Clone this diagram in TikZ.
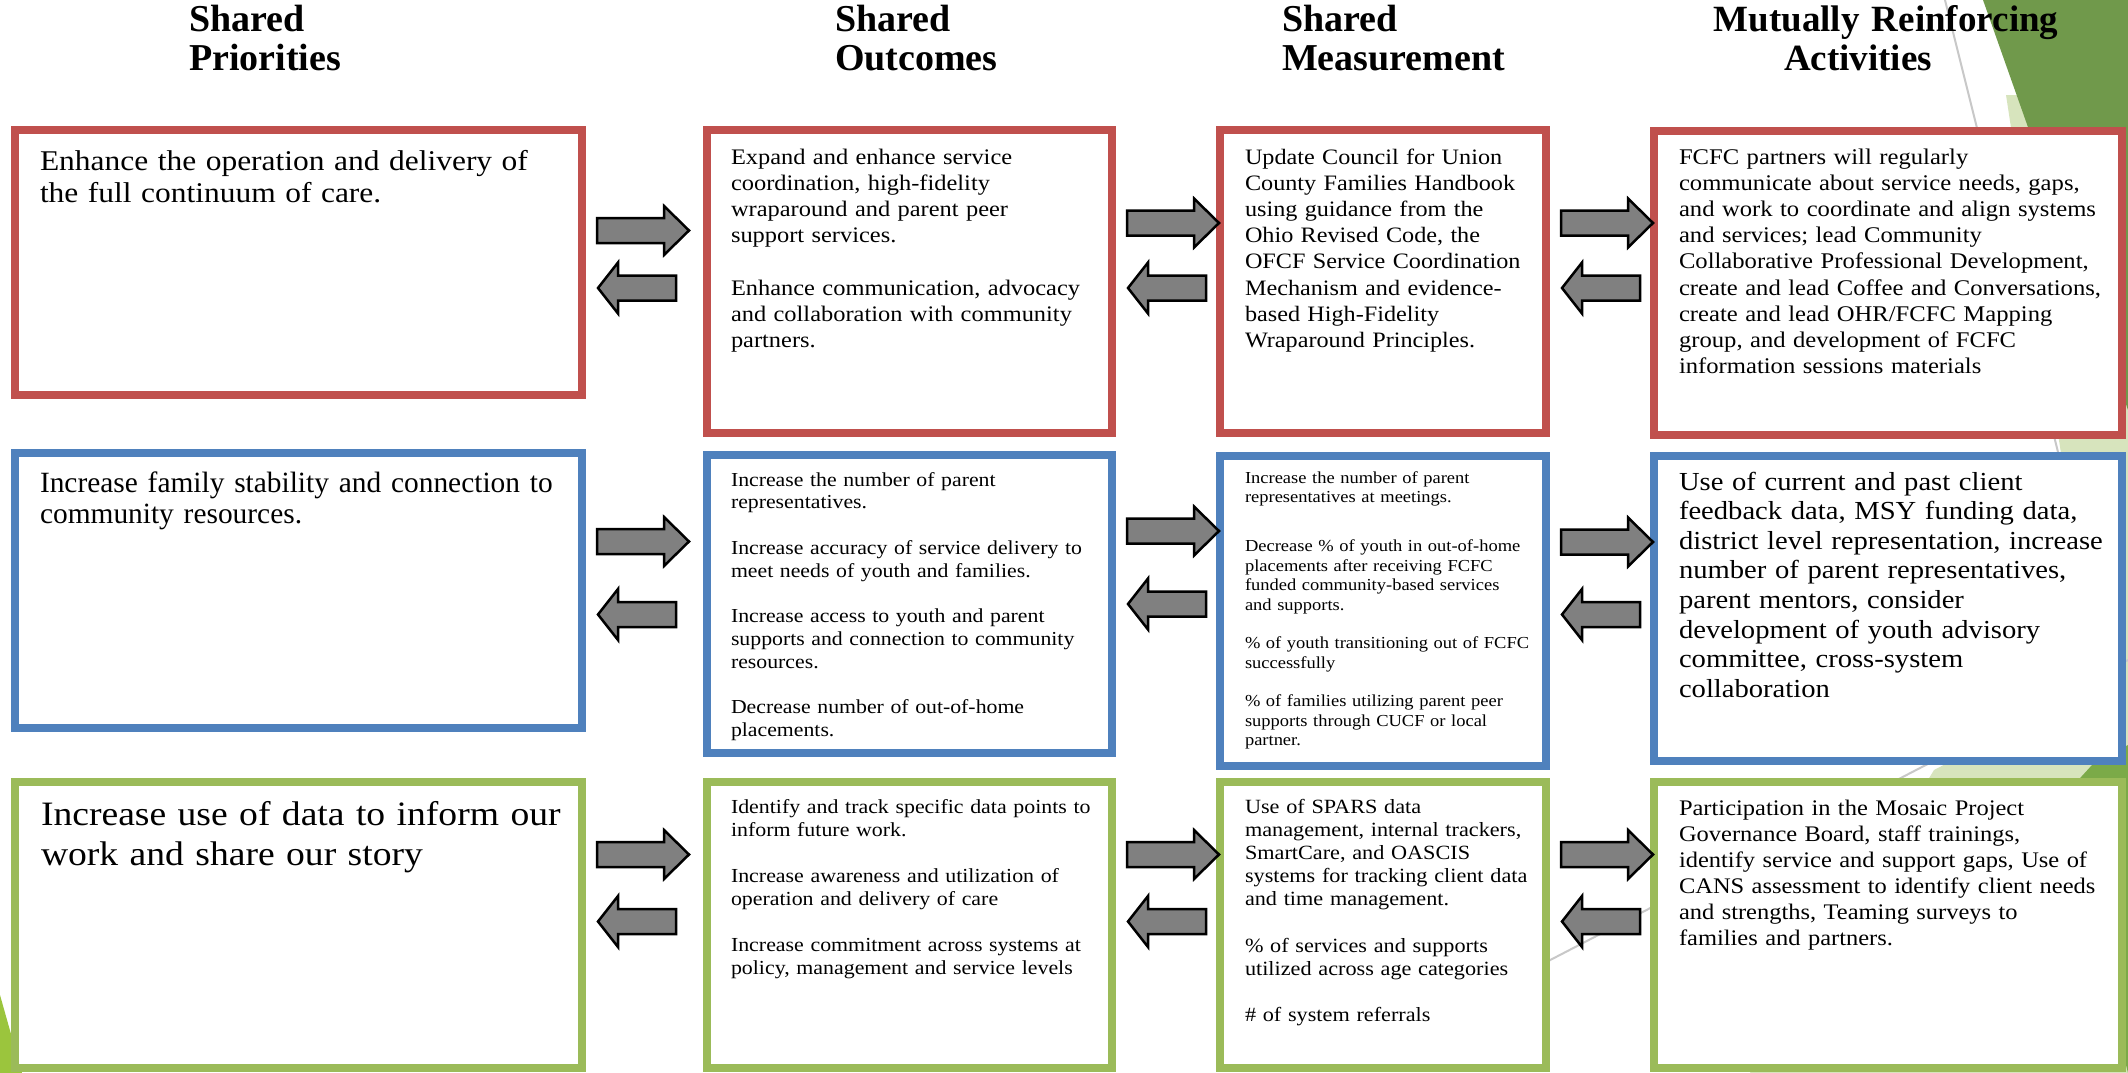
\documentclass[tikz,border=0pt]{standalone}
\usepackage{fontspec}
\setmainfont{Liberation Serif}
\newfontfamily\cam[FakeStretch=1.1]{Liberation Serif}
\newfontfamily\tnr{Liberation Serif}
\usetikzlibrary{calc}
\definecolor{bred}{HTML}{C0504D}
\definecolor{bblue}{HTML}{4F81BD}
\definecolor{bgreen}{HTML}{9BBB59}
\definecolor{arrowgrey}{HTML}{808080}
\definecolor{darkleaf}{HTML}{70994B}
\definecolor{lightleaf}{HTML}{D7E4BD}
\definecolor{midleaf}{HTML}{7BAA48}
\definecolor{limeleaf}{HTML}{9BC53D}
\definecolor{decoline}{HTML}{C8C8C8}
\tikzset{
  box/.style={rectangle, draw, line width=8pt, fill=white, inner sep=0pt, outer sep=0pt, anchor=north west},
  redbox/.style={box, draw=bred},
  bluebox/.style={box, draw=bblue},
  greenbox/.style={box, draw=bgreen},
  txt/.style={anchor=base west, inner sep=0pt, outer sep=0pt, text width=600pt, align=left},
  ttl/.style={anchor=base west, inner sep=0pt, outer sep=0pt, text width=420pt, align=left,
              font=\tnr\bfseries\fontsize{38}{39}\selectfont},
  blockarrow/.style={draw=black, line width=2.5pt, fill=arrowgrey, line join=miter},
  decol/.style={draw=decoline, line width=2pt}
}
% right-pointing block arrow starting just right of box #1, centred at image row #2
\newcommand\blockR[2]{%
  \path (0,#2) coordinate (yy);
  \coordinate (ra) at ($(#1.east |- yy)+(15,0)$);
  \draw[blockarrow] ($(ra)+(0,-12.5)$) -- ++(67,0) -- ++(0,-12) -- ++(25,24.5)
     -- ++(-25,24.5) -- ++(0,-12) -- ++(-67,0) -- cycle;}
% left-pointing block arrow whose tip is just right of box #1
\newcommand\blockL[2]{%
  \path (0,#2) coordinate (yy);
  \coordinate (la) at ($(#1.east |- yy)+(16,0)$);
  \draw[blockarrow] (la) -- ++(20,-25.5) -- ++(0,13) -- ++(58,0) -- ++(0,25)
     -- ++(-58,0) -- ++(0,13) -- cycle;}
\begin{document}
\begin{tikzpicture}[x=1pt,y=-1pt]
\useasboundingbox (0,0) rectangle (2128,1073);
\fill[white] (0,0) rectangle (2128,1073);

% background decoration
\fill[lightleaf] (2006,95) -- (2128,95) -- (2128,740) -- (2105,740) -- cycle;
\fill[darkleaf] (1983,0) -- (2128,0) -- (2128,410) -- cycle;
\draw[decol] (1945,0) -- (2128,732);
\fill[lightleaf] (1934,770) -- (2128,669) -- (2128,1073) -- (1750,1073) -- cycle;
\fill[midleaf] (2092,765) -- (2128,745) -- (2128,1073) -- (2060,800) -- cycle;
\draw[decol] (1400,1038) -- (2128,660);
\fill[limeleaf] (0,995) -- (22,1073) -- (0,1073) -- cycle;

% titles
\node[ttl] (h1) at (189,32) {Shared\\Priorities};
\node[ttl] (h2) at (835,32) {Shared\\Outcomes};
\node[ttl] (h3) at (1282,32) {Shared\\Measurement};
\node[ttl, align=center, font=\tnr\bfseries\fontsize{37}{39}\selectfont] (h4) at (1676,32)
  {Mutually Reinforcing\\Activities\kern56pt};

% row 1
\node[redbox, minimum width=567pt, minimum height=265pt] (A1) at (15,130) {};
\node[redbox, minimum width=405pt, minimum height=303pt] (B1) at (707,130) {};
\node[redbox, minimum width=326pt, minimum height=303pt] (C1) at (1220,130) {};
\node[redbox, minimum width=468pt, minimum height=304pt] (D1) at (1654,131) {};
% row 2
\node[bluebox, minimum width=567pt, minimum height=275pt] (A2) at (15,453) {};
\node[bluebox, minimum width=405pt, minimum height=298pt] (B2) at (707,455) {};
\node[bluebox, minimum width=326pt, minimum height=310pt] (C2) at (1220,456) {};
\node[bluebox, minimum width=468pt, minimum height=305pt] (D2) at (1654,456) {};
% row 3
\node[greenbox, minimum width=567pt, minimum height=286pt] (A3) at (15,782) {};
\node[greenbox, minimum width=405pt, minimum height=286pt] (B3) at (707,782) {};
\node[greenbox, minimum width=326pt, minimum height=286pt] (C3) at (1220,782) {};
\node[greenbox, minimum width=468pt, minimum height=286pt] (D3) at (1654,782) {};

% texts row 1
\node[txt, font={\cam\fontsize{28.6}{32.5}\selectfont}] (tA1) at (40,170)
  {Enhance the operation and delivery of\\the full continuum of care.};
\node[txt, font={\cam\fontsize{22.2}{26.2}\selectfont}] (tB1) at (731,164)
  {Expand and enhance service\\coordination, high-fidelity\\wraparound and parent peer\\support services.\\[26.2pt]Enhance communication, advocacy\\and collaboration with community\\partners.};
\node[txt, font={\cam\fontsize{22}{26.2}\selectfont}] (tC1) at (1245,164)
  {Update Council for Union\\County Families Handbook\\using guidance from the\\Ohio Revised Code, the\\OFCF Service Coordination\\Mechanism and evidence-\\based High-Fidelity\\Wraparound Principles.};
\node[txt, font={\cam\fontsize{22.4}{26.2}\selectfont}] (tD1) at (1679,164)
  {FCFC partners will regularly\\communicate about service needs, gaps,\\and work to coordinate and align systems\\and services; lead Community\\Collaborative Professional Development,\\create and lead Coffee and Conversations,\\create and lead OHR/FCFC Mapping\\group, and development of FCFC\\information sessions materials};

% texts row 2
\node[txt, font={\tnr\fontsize{29.4}{31}\selectfont}] (tA2) at (40,492)
  {Increase family stability and connection to\\community resources.};
\node[txt, font={\cam\fontsize{19.8}{22.7}\selectfont}] (tB2) at (731,486)
  {Increase the number of parent\\representatives.\\[23pt]Increase accuracy of service delivery to\\meet needs of youth and families.\\[23pt]Increase access to youth and parent\\supports and connection to community\\resources.\\[23pt]Decrease number of out-of-home\\placements.};
\node[txt, font={\cam\fontsize{16.8}{19.5}\selectfont}] (tC2) at (1245,483)
  {Increase the number of parent\\representatives at meetings.\\[29.5pt]Decrease \% of youth in out-of-home\\placements after receiving FCFC\\funded community-based services\\and supports.\\[19pt]\% of youth transitioning out of FCFC\\successfully\\[19pt]\% of families utilizing parent peer\\supports through CUCF or local\\partner.};
\node[txt, font={\cam\fontsize{26}{29.6}\selectfont}] (tD2) at (1679,490)
  {Use of current and past client\\feedback data, MSY funding data,\\district level representation, increase\\number of parent representatives,\\parent mentors, consider\\development of youth advisory\\committee, cross-system\\collaboration};

% texts row 3
\node[txt, font={\cam\fontsize{34.2}{40}\selectfont}] (tA3) at (41,825)
  {Increase use of data to inform our\\work and share our story};
\node[txt, font={\cam\fontsize{19.9}{23}\selectfont}] (tB3) at (731,813)
  {Identify and track specific data points to\\inform future work.\\[23pt]Increase awareness and utilization of\\operation and delivery of care\\[23pt]Increase commitment across systems at\\policy, management and service levels};
\node[txt, font={\cam\fontsize{20.2}{23}\selectfont}] (tC3) at (1245,813)
  {Use of SPARS data\\management, internal trackers,\\SmartCare, and OASCIS\\systems for tracking client data\\and time management.\\[24pt]\% of services and supports\\utilized across age categories\\[23pt]\# of system referrals};
\node[txt, font={\cam\fontsize{22.25}{26}\selectfont}] (tD3) at (1679,815)
  {Participation in the Mosaic Project\\Governance Board, staff trainings,\\identify service and support gaps, Use of\\CANS assessment to identify client needs\\and strengths, Teaming surveys to\\families and partners.};

% block arrows
\blockR{A1}{230.5}\blockL{A1}{288}
\blockR{B1}{223}\blockL{B1}{288}
\blockR{C1}{223}\blockL{C1}{288}
\blockR{A2}{541.5}\blockL{A2}{614.5}
\blockR{B2}{531}\blockL{B2}{604}
\blockR{C2}{542}\blockL{C2}{614.5}
\blockR{A3}{854.5}\blockL{A3}{921.5}
\blockR{B3}{854.5}\blockL{B3}{921.5}
\blockR{C3}{854.5}\blockL{C3}{921.5}
\end{tikzpicture}
\end{document}
